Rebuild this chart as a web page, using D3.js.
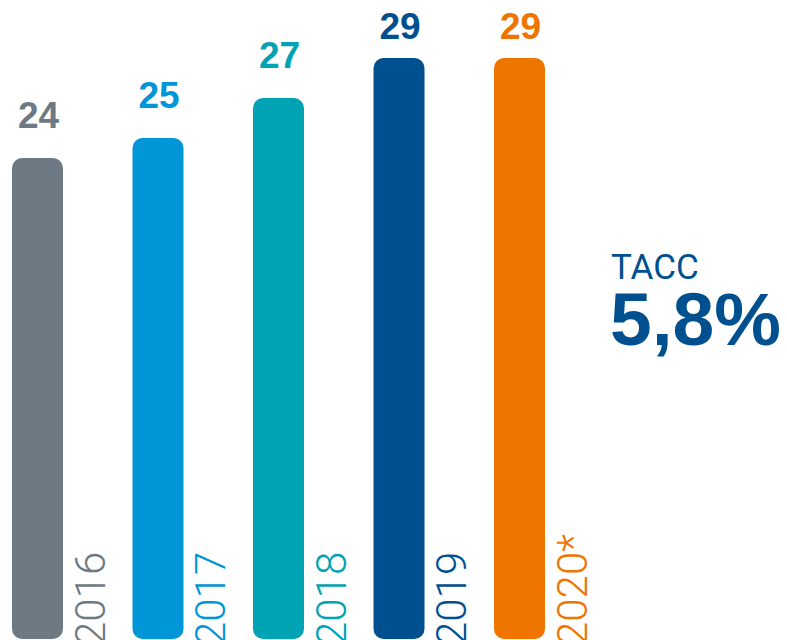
<!DOCTYPE html>
<html><head><meta charset="utf-8">
<script src="https://cdn.jsdelivr.net/npm/d3@7"></script>
<style>html,body{margin:0;padding:0;background:#fff;}svg{display:block;}</style>
</head><body>
<svg id="chart" width="787" height="640"></svg>
<script>
const years = ["2016","2017","2018","2019","2020*"];
const values = [24, 25, 27, 29, 29];
const colors = ["#6d7a83","#0096d7","#00a3b3","#00508f","#ef7400"];
const cagrLabel = "TACC";
const cagrValue = "5,8%";

const svg = d3.select("#chart");

const x = d3.scaleBand().domain(years).range([12, 545]).paddingInner(0.577).paddingOuter(0);
const y = d3.scaleLinear().domain([24, 29]).range([158, 58]);
const bottom = 639;
const bw = x.bandwidth();

const g = svg.append("g");
years.forEach((yr, i) => {
  const v = values[i];
  g.append("rect")
    .attr("x", x(yr)).attr("y", y(v))
    .attr("width", bw).attr("height", bottom - y(v))
    .attr("rx", 10).attr("ry", 10)
    .attr("fill", colors[i]);
  g.append("text")
    .attr("x", x(yr) + bw/2 + 1).attr("y", Math.max(y(v) - 30, 39))
    .attr("text-anchor", "middle")
    .attr("font-family", "'Liberation Sans', Arial, sans-serif")
    .attr("font-weight", 700).attr("font-size", 37)
    .attr("fill", colors[i])
    .text(v);
  g.append("text")
    .attr("transform", `translate(${x(yr) + bw + 42},${645}) rotate(-90)`)
    .attr("font-family", "Roboto, Arial, sans-serif")
    .attr("font-weight", 300).attr("font-size", 42)
    .attr("fill", colors[i])
    .text(yr);
});

svg.append("text").attr("x", 611).attr("y", 279)
  .attr("font-family", "Roboto, Arial, sans-serif").attr("font-weight", 400)
  .attr("font-size", 35).attr("fill", "#00508f").text(cagrLabel);
svg.append("text").attr("x", 610).attr("y", 345)
  .attr("font-family", "'Liberation Sans', Arial, sans-serif").attr("font-weight", 700)
  .attr("font-size", 75).attr("fill", "#00508f").text(cagrValue);
</script>
</body></html>
